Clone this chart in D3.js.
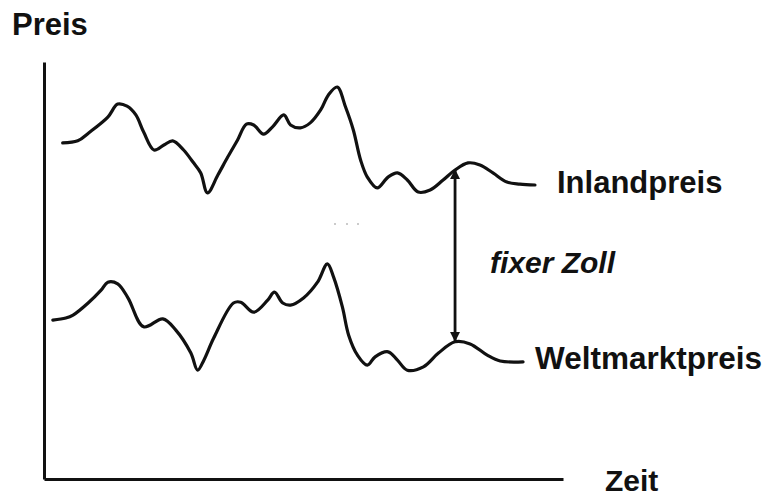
<!DOCTYPE html>
<html>
<head>
<meta charset="utf-8">
<script src="https://cdn.jsdelivr.net/npm/d3@7"></script>
<style>
  body { margin: 0; background: #fff; }
  svg text { font-family: "Liberation Sans", Arial, Helvetica, sans-serif; fill: #111; }
</style>
</head>
<body>
<svg id="chart"></svg>
<script>
// time (0-100) and price (0-100)
var inlandTime  = [3.6,6.5,8.6,12.3,14.2,16.0,17.7,19.2,21.2,23.1,24.8,26.9,28.7,30.2,31.5,33.5,35.4,37.3,39.0,40.4,42.3,44.0,46.2,47.5,49.4,51.3,53.3,54.8,56.5,58.1,59.6,61.0,62.3,64.2,66.3,68.1,70.0,72.1,74.4,76.9,79.2,81.7,84.0,86.5,89.2,91.7,94.6];
var inlandPrice = [80.6,81.1,83.0,86.8,89.9,89.4,87.3,83.2,78.9,80.1,81.1,78.9,76.0,73.4,68.6,72.9,77.2,81.3,85.1,84.9,82.7,84.4,87.3,84.9,84.2,85.4,88.5,92.1,94.0,89.2,83.7,76.5,72.4,69.8,72.4,73.4,71.7,68.8,69.3,71.7,74.1,75.8,75.3,73.4,71.2,70.7,70.5];

var weltTime  = [1.7,4.2,5.6,8.5,11.0,12.3,14.2,16.2,19.2,22.9,25.4,28.3,29.6,30.8,32.7,36.5,37.9,40.4,43.1,44.4,46.0,47.5,50.0,52.7,54.6,55.8,57.5,58.7,60.4,62.3,63.8,66.3,68.1,70.0,73.1,76.0,79.2,82.1,85.4,87.9,92.3];
var weltPrice = [38.1,38.6,39.3,42.2,45.3,47.2,46.8,43.4,36.5,38.4,35.7,30.2,26.1,28.5,33.8,42.2,42.4,40.0,42.9,44.8,42.2,41.7,43.4,47.2,51.6,48.4,41.2,34.5,29.7,27.3,29.3,30.5,28.5,26.1,26.9,30.2,32.9,32.4,29.7,28.3,28.1];

var zollTime = 79.2;
var zollFrom = 74.1, zollTo = 33.1;

var labels = { y: "Preis", x: "Zeit", inland: "Inlandpreis", welt: "Weltmarktpreis", zoll: "fixer Zoll" };

var width = 769, height = 497;
var svg = d3.select("#chart").attr("width", width).attr("height", height);

var x = d3.scaleLinear().domain([0, 100]).range([44, 563]);
var y = d3.scaleLinear().domain([0, 100]).range([479, 62]);

svg.append("defs").append("marker")
    .attr("id", "head")
    .attr("viewBox", "0 0 10 10")
    .attr("refX", 9).attr("refY", 5)
    .attr("markerWidth", 3.6).attr("markerHeight", 3.6)
    .attr("orient", "auto-start-reverse")
    .append("path")
    .attr("d", "M0,0 L10,5 L0,10 Z")
    .attr("fill", "#111");

// axes without ticks
svg.append("g")
    .attr("transform", "translate(0," + y(0) + ")")
    .call(d3.axisBottom(x).ticks(0).tickSizeOuter(0));
svg.append("g")
    .attr("transform", "translate(" + x(0) + ",0)")
    .call(d3.axisLeft(y).ticks(0).tickSizeOuter(0));
svg.selectAll(".domain").attr("stroke", "#111").attr("stroke-width", 3);

var line = d3.line()
    .x(function(d){ return x(d[0]); })
    .y(function(d){ return y(d[1]); })
    .curve(d3.curveCatmullRom.alpha(0.5));

[d3.zip(inlandTime, inlandPrice), d3.zip(weltTime, weltPrice)].forEach(function(series){
    svg.append("path")
        .datum(series)
        .attr("d", line)
        .attr("fill", "none").attr("stroke", "#111")
        .attr("stroke-width", 3.2).attr("stroke-linejoin", "round").attr("stroke-linecap", "round");
});

// double arrow for the tariff
svg.append("line")
    .attr("x1", x(zollTime)).attr("x2", x(zollTime))
    .attr("y1", y(zollFrom)).attr("y2", y(zollTo))
    .attr("stroke", "#111").attr("stroke-width", 2.8)
    .attr("marker-start", "url(#head)")
    .attr("marker-end", "url(#head)");

// small specks
svg.selectAll(".speck").data([335, 347, 358]).enter().append("circle")
    .attr("cx", function(d){ return d; }).attr("cy", 224).attr("r", 0.8).attr("fill", "#888");

svg.append("text").text(labels.y)
    .attr("x", 12).attr("y", 35)
    .attr("font-size", 31).attr("font-weight", "bold");
svg.append("text").text(labels.x)
    .attr("x", 605).attr("y", 491)
    .attr("font-size", 30).attr("font-weight", "bold");
svg.append("text").text(labels.inland)
    .attr("x", 557).attr("y", 193)
    .attr("font-size", 31).attr("font-weight", "bold");
svg.append("text").text(labels.welt)
    .attr("x", 535).attr("y", 369)
    .attr("font-size", 31.5).attr("font-weight", "bold");
svg.append("text").text(labels.zoll)
    .attr("x", 490).attr("y", 273)
    .attr("font-size", 30).attr("font-weight", "bold").attr("font-style", "italic");
</script>
</body>
</html>
